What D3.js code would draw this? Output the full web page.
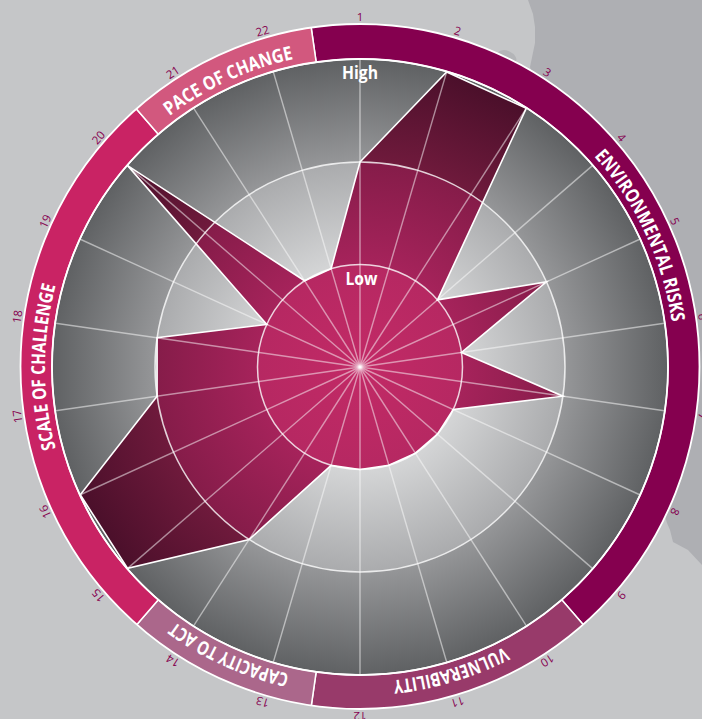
<!DOCTYPE html>
<html><head><meta charset="utf-8">
<script src="https://cdn.jsdelivr.net/npm/d3@7"></script>
<style>html,body{margin:0;padding:0;background:#c5c6c8;overflow:hidden}svg{display:block}
text{font-family:"Open Sans",sans-serif}</style></head>
<body><svg id="c" width="702" height="719"></svg>
<script>
const spokeLabels = d3.range(1,23).map(String);
const levels = [1,2,3];
const levelNames = ["Low","","High"];
const values = [2,3,3,1,2,1,2,1,1,1,1,1,1,2,3,3,2,2,1,3,1,1];
const sectionNames = ["ENVIRONMENTAL RISKS","VULNERABILITY","CAPACITY TO ACT","SCALE OF CHALLENGE","PACE OF CHANGE"];
const sectionSpans = [9,3,2,6,2];
const sectionColors = ["#85004f","#983a6a","#ab678b","#c92364","#d2587e"];
const sectionTextFrom = [48,152.7,193,255,322.8];
const sectionTextTo = [81.8,174,216,285,347.8];
const coast = [[528,0],[533,14],[535,27],[535,43],[530,67],[600,300],[667,523],[670,530],[673,542],[688,550],[702,565],[702,0]];

const cx=360, cy=367, R=307.5, ringIn=308;
const svg=d3.select("#c");
svg.append("rect").attr("width",702).attr("height",719).attr("fill","#c5c6c8");
svg.append("path").attr("d",d3.line()(coast)).attr("fill","#aeafb3");
svg.append("ellipse").attr("cx",507).attr("cy",57).attr("rx",10).attr("ry",6).attr("transform","rotate(25 507 57)").attr("fill","#b4b5b8");

const angle=d3.scaleBand().domain(spokeLabels).range([0,2*Math.PI]).align(0);
const a=d=>angle(d);
const step=angle.step();
const deg=t=>t*180/Math.PI;
const r=d3.scaleLinear().domain([0,3]).range([0,R]);

const defs=svg.append("defs");
function lin(id,stops){
  const l=defs.append("linearGradient").attr("id",id).attr("gradientUnits","userSpaceOnUse")
    .attr("x1",0).attr("y1",0).attr("x2",0).attr("y2",-R);
  stops.forEach(s=>l.append("stop").attr("offset",s[0]).attr("stop-color",s[1]));
}
const bgBands=[["#e6e6e7","#d6d7d8"],["#d4d5d6","#aaabad"],["#959698","#5f6163"]];
const polyBands=[["#c22a66","#b62862"],["#a6235b","#851c49"],["#6f1a3c","#4a0f2a"]];
const edges=[0,1/3,2/3,1];
[["bg",bgBands],["poly",polyBands]].forEach(([k,b])=>b.forEach((c,i)=>
  lin(k+i,[[edges[i],c[0]],[edges[i+1],c[1]]])));

const g=svg.append("g").attr("transform",`translate(${cx},${cy})`);
const bandArc=d3.arc().startAngle(-step/2).endAngle(step/2);
const wedgeCells=d3.cross(spokeLabels,[0,1,2],(s,b)=>({s,b}));
function wedges(parent,key){
  parent.selectAll("path").data(wedgeCells).join("path")
    .attr("d",d=>bandArc({innerRadius:r(d.b),outerRadius:r(d.b+1)}))
    .attr("transform",d=>`rotate(${deg(a(d.s)+step/2)})`)
    .attr("fill",d=>`url(#${key}${d.b})`)
    .attr("stroke",d=>`url(#${key}${d.b})`).attr("stroke-width",.6);
}

// disc
g.append("circle").attr("r",R).attr("fill","#8a8b8d");
wedges(g.append("g"),"bg");

// ring segments (slightly flattened at the sides, as in the source)
defs.append("clipPath").attr("id","ringClip").append("ellipse").attr("cx",0).attr("cy",-.5).attr("rx",339.5).attr("ry",342.5);
let start=-step/2;
const arc=d3.arc().innerRadius(ringIn).outerRadius(346);
const secs=sectionNames.map((n,i)=>{const s=start;start+=sectionSpans[i]*step;return {n,i,s,e:start};});
const ringG=g.append("g").attr("clip-path","url(#ringClip)");
ringG.selectAll("path.seg").data(secs).join("path").attr("class","seg")
  .attr("d",d=>arc({startAngle:d.s,endAngle:d.e})).attr("fill",d=>sectionColors[d.i])
  .attr("stroke","#fff").attr("stroke-width",1.5);
g.append("ellipse").attr("cy",-.5).attr("rx",339.5).attr("ry",342.5).attr("fill","none").attr("stroke","#fff").attr("stroke-width",1.8);
g.append("circle").attr("r",ringIn).attr("fill","none").attr("stroke","#fff").attr("stroke-width",1.8);

// polygon
const radial=d3.lineRadial().angle((d,i)=>a(spokeLabels[i])).radius(d=>r(d)).curve(d3.curveLinearClosed);
defs.append("clipPath").attr("id","polyClip").append("path").attr("d",radial(values));
const polyG=g.append("g").attr("clip-path","url(#polyClip)");
polyG.append("circle").attr("r",R).attr("fill","#8a1c4a");
wedges(polyG,"poly");
g.append("path").attr("d",radial(values)).attr("fill","none").attr("stroke","#fff").attr("stroke-width",1.6).attr("stroke-linejoin","miter");

// spokes
const px=(t,rad)=>[Math.sin(t)*rad,-Math.cos(t)*rad];
g.selectAll("line.sp").data(spokeLabels).join("line").attr("class","sp")
  .attr("x1",0).attr("y1",0)
  .attr("x2",d=>px(a(d),R)[0]).attr("y2",d=>px(a(d),R)[1])
  .attr("stroke","#fff").attr("stroke-opacity",.5).attr("stroke-width",1.4);

// level circles
g.selectAll("circle.lv").data(levels.slice(0,2)).join("circle").attr("class","lv")
  .attr("r",d=>r(d)).attr("fill","none").attr("stroke","#fff").attr("stroke-opacity",.8).attr("stroke-width",1.5);

// level names
g.append("text").attr("x",0).attr("y",-288).attr("text-anchor","middle").attr("fill","#fff")
  .attr("font-size",18.5).attr("font-weight",700).attr("textLength",36).attr("lengthAdjust","spacingAndGlyphs").text(levelNames[2]);
g.append("text").attr("x",1.5).attr("y",-82).attr("text-anchor","middle").attr("fill","#fff")
  .attr("font-size",18).attr("font-weight",700).attr("textLength",32).attr("lengthAdjust","spacingAndGlyphs").text(levelNames[0]);

// spoke number labels
g.selectAll("text.num").data(spokeLabels).join("text").attr("class","num")
  .attr("transform",d=>{const t=a(d);return `translate(${Math.sin(t)*346.5},${-Math.cos(t)*350-.5}) rotate(${deg(t)})`;})
  .attr("text-anchor","middle").attr("dominant-baseline","central")
  .attr("font-size",11.5).attr("fill","#85004f").text(d=>d);

// section titles on arcs
const labelR=315;
secs.forEach((d,i)=>{
  const rad=x=>x*Math.PI/180;
  const s=rad(sectionTextFrom[i]), e=rad(sectionTextTo[i]);
  const p0=px(s,labelR), p1=px(e,labelR);
  defs.append("path").attr("id","tp"+i)
    .attr("d",`M${p0[0]+cx},${p0[1]+cy}A${labelR},${labelR} 0 0 1 ${p1[0]+cx},${p1[1]+cy}`);
  svg.append("text").attr("fill","#fff").attr("font-size",19).attr("font-weight",700)
    .append("textPath").attr("href","#tp"+i)
    .attr("textLength",(e-s)*labelR).attr("lengthAdjust","spacingAndGlyphs").text(d.n);
});
</script></body></html>
